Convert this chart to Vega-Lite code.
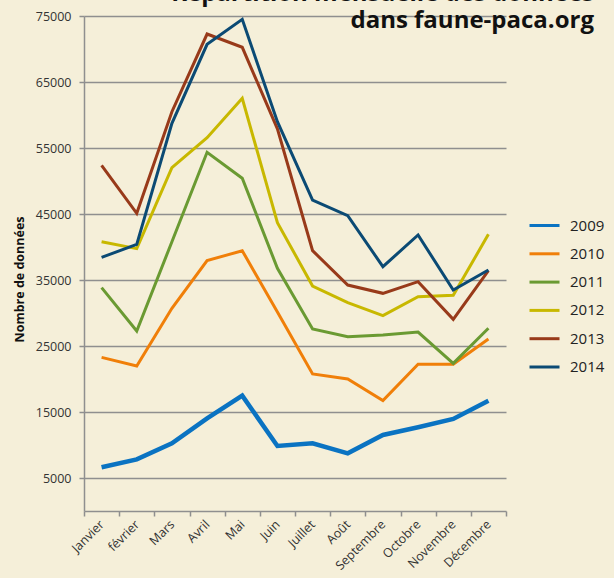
{
  "$schema": "https://vega.github.io/schema/vega-lite/v6.json",
  "width": 422,
  "height": 495,
  "autosize": {"type": "none"},
  "padding": {"left": 84, "top": 16, "right": 108, "bottom": 67},
  "background": "#f5efd9",
  "title": {
    "text": ["Répartition mensuelle des données", "dans faune-paca.org"],
    "anchor": "end",
    "frame": "group",
    "dx": 88,
    "dy": 11,
    "font": "Open Sans",
    "fontSize": 24,
    "fontWeight": "bold",
    "color": "#111111",
    "lineHeight": 27,
    "offset": -12
  },
  "config": {
    "view": {"stroke": null},
    "font": "Open Sans"
  },
  "data": {
    "values": [
      {"month": "Janvier", "year": "2009", "value": 6620},
      {"month": "février", "year": "2009", "value": 7830},
      {"month": "Mars", "year": "2009", "value": 10250},
      {"month": "Avril", "year": "2009", "value": 14040},
      {"month": "Mai", "year": "2009", "value": 17480},
      {"month": "Juin", "year": "2009", "value": 9850},
      {"month": "Juillet", "year": "2009", "value": 10250},
      {"month": "Août", "year": "2009", "value": 8740},
      {"month": "Septembre", "year": "2009", "value": 11520},
      {"month": "Octobre", "year": "2009", "value": 12680},
      {"month": "Novembre", "year": "2009", "value": 13940},
      {"month": "Décembre", "year": "2009", "value": 16720},
      {"month": "Janvier", "year": "2010", "value": 23280},
      {"month": "février", "year": "2010", "value": 21970},
      {"month": "Mars", "year": "2010", "value": 30710},
      {"month": "Avril", "year": "2010", "value": 37930},
      {"month": "Mai", "year": "2010", "value": 39440},
      {"month": "Juin", "year": "2010", "value": 30150},
      {"month": "Juillet", "year": "2010", "value": 20760},
      {"month": "Août", "year": "2010", "value": 20000},
      {"month": "Septembre", "year": "2010", "value": 16720},
      {"month": "Octobre", "year": "2010", "value": 22230},
      {"month": "Novembre", "year": "2010", "value": 22230},
      {"month": "Décembre", "year": "2010", "value": 26060},
      {"month": "Janvier", "year": "2011", "value": 33840},
      {"month": "février", "year": "2011", "value": 27270},
      {"month": "Mars", "year": "2011", "value": 40800},
      {"month": "Avril", "year": "2011", "value": 54350},
      {"month": "Mai", "year": "2011", "value": 50410},
      {"month": "Juin", "year": "2011", "value": 36770},
      {"month": "Juillet", "year": "2011", "value": 27580},
      {"month": "Août", "year": "2011", "value": 26410},
      {"month": "Septembre", "year": "2011", "value": 26670},
      {"month": "Octobre", "year": "2011", "value": 27120},
      {"month": "Novembre", "year": "2011", "value": 22370},
      {"month": "Décembre", "year": "2011", "value": 27680},
      {"month": "Janvier", "year": "2012", "value": 40810},
      {"month": "février", "year": "2012", "value": 39750},
      {"month": "Mars", "year": "2012", "value": 52020},
      {"month": "Avril", "year": "2012", "value": 56570},
      {"month": "Mai", "year": "2012", "value": 62530},
      {"month": "Juin", "year": "2012", "value": 43690},
      {"month": "Juillet", "year": "2012", "value": 34090},
      {"month": "Août", "year": "2012", "value": 31570},
      {"month": "Septembre", "year": "2012", "value": 29600},
      {"month": "Octobre", "year": "2012", "value": 32470},
      {"month": "Novembre", "year": "2012", "value": 32680},
      {"month": "Décembre", "year": "2012", "value": 41920},
      {"month": "Janvier", "year": "2013", "value": 52370},
      {"month": "février", "year": "2013", "value": 45100},
      {"month": "Mars", "year": "2013", "value": 60500},
      {"month": "Avril", "year": "2013", "value": 72270},
      {"month": "Mai", "year": "2013", "value": 70260},
      {"month": "Juin", "year": "2013", "value": 57900},
      {"month": "Juillet", "year": "2013", "value": 39440},
      {"month": "Août", "year": "2013", "value": 34240},
      {"month": "Septembre", "year": "2013", "value": 32980},
      {"month": "Octobre", "year": "2013", "value": 34750},
      {"month": "Novembre", "year": "2013", "value": 29040},
      {"month": "Décembre", "year": "2013", "value": 36410},
      {"month": "Janvier", "year": "2014", "value": 38430},
      {"month": "février", "year": "2014", "value": 40400},
      {"month": "Mars", "year": "2014", "value": 58740},
      {"month": "Avril", "year": "2014", "value": 70710},
      {"month": "Mai", "year": "2014", "value": 74490},
      {"month": "Juin", "year": "2014", "value": 58990},
      {"month": "Juillet", "year": "2014", "value": 47120},
      {"month": "Août", "year": "2014", "value": 44740},
      {"month": "Septembre", "year": "2014", "value": 37020},
      {"month": "Octobre", "year": "2014", "value": 41820},
      {"month": "Novembre", "year": "2014", "value": 33480},
      {"month": "Décembre", "year": "2014", "value": 36520}
    ]
  },
  "mark": {"type": "line", "strokeJoin": "miter", "strokeCap": "butt"},
  "encoding": {
    "x": {
      "field": "month",
      "type": "nominal",
      "sort": ["Janvier", "février", "Mars", "Avril", "Mai", "Juin", "Juillet", "Août", "Septembre", "Octobre", "Novembre", "Décembre"],
      "scale": {"type": "band", "paddingInner": 0, "paddingOuter": 0},
      "axis": {
        "title": null,
        "labelAngle": -45,
        "labelAlign": "right",
        "labelBaseline": "middle",
        "labelFontSize": 12.5,
        "labelColor": "#333333",
        "labelPadding": 6,
        "tickBand": "extent",
        "tickSize": 5,
        "tickColor": "#8f8f8f",
        "tickWidth": 1.5,
        "domainColor": "#8f8f8f",
        "domainWidth": 1.5,
        "grid": false
      }
    },
    "y": {
      "field": "value",
      "type": "quantitative",
      "scale": {"domain": [0, 75000], "nice": false, "zero": true},
      "axis": {
        "title": "Nombre de données",
        "titleFontSize": 12.5,
        "titleFontWeight": "bold",
        "titleColor": "#111111",
        "titleY": 263,
        "titleAlign": "center",
        "titlePadding": 9,
        "values": [5000, 15000, 25000, 35000, 45000, 55000, 65000, 75000],
        "format": "d",
        "labelFontSize": 12.5,
        "labelColor": "#333333",
        "labelPadding": 8,
        "tickSize": 5,
        "tickColor": "#8f8f8f",
        "tickWidth": 1.5,
        "domainColor": "#8f8f8f",
        "domainWidth": 1.5,
        "grid": true,
        "gridColor": "#8f8f8f",
        "gridWidth": 1.5
      }
    },
    "color": {
      "field": "year",
      "type": "nominal",
      "scale": {
        "domain": ["2009", "2010", "2011", "2012", "2013", "2014"],
        "range": ["#0a73c2", "#f07f09", "#6a9a32", "#c8b800", "#983a1a", "#0b4a74"]
      },
      "legend": {
        "title": null,
        "orient": "none",
        "legendX": 444,
        "legendY": 193,
        "symbolType": "stroke",
        "symbolSize": 900,
        "symbolStrokeWidth": 3,
        "labelFontSize": 15,
        "labelColor": "#222222",
        "labelOffset": 9,
        "rowPadding": 3.3
      }
    },
    "strokeWidth": {
      "condition": {"test": "datum.year == '2009'", "value": 4.5},
      "value": 3
    }
  }
}
